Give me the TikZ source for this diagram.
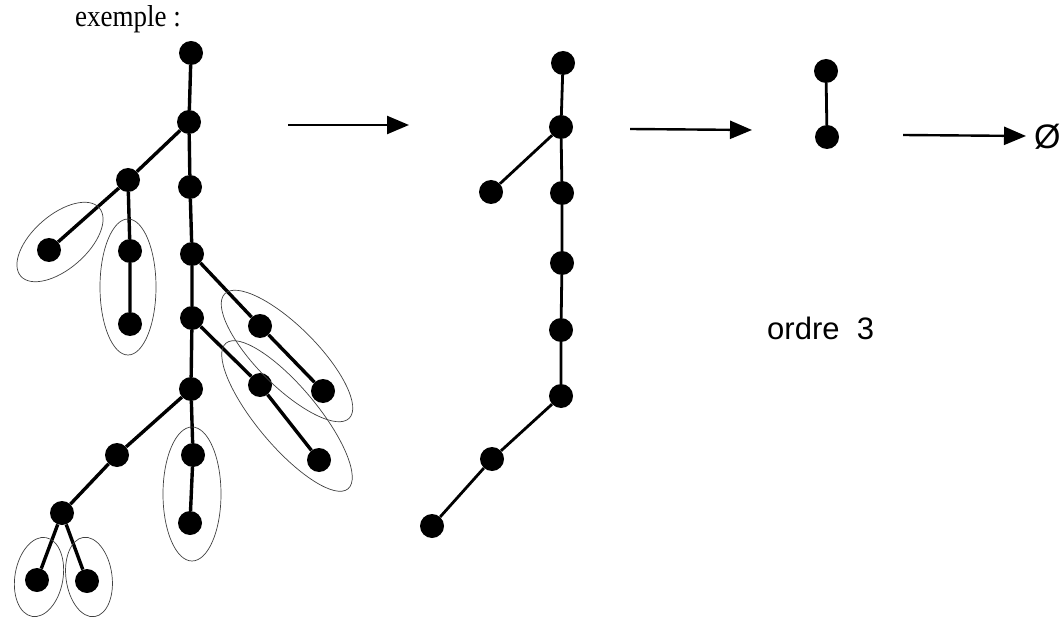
\documentclass[tikz,border=0pt]{standalone}
\usepackage{fontspec}
\setmainfont{Liberation Serif}
\newfontfamily\helv{Liberation Sans}
\usetikzlibrary{arrows.meta}
\begin{document}
\begin{tikzpicture}[x=1pt,y=-1pt,
  dot/.style={circle,fill=black,inner sep=0pt,minimum size=24pt},
  edge/.style={line width=3.4pt},
  thinedge/.style={line width=2.8pt},
  blob/.style={line width=0.7pt,draw=black!75},
  arr/.style={line width=2.4pt,-{Triangle[length=22pt,width=18pt]}}]
\useasboundingbox (0,0) rectangle (1064,617);
% title
\node[anchor=base west,font=\fontsize{27}{30}\selectfont,inner sep=0pt,yscale=1.12] (title) at (75,27) {exemple :};
% left tree
\node[dot] (a) at (191,53) {};
\node[dot] (b) at (189,122) {};
\node[dot] (c) at (190,187) {};
\node[dot] (d) at (192,254) {};
\node[dot] (e) at (192,318) {};
\node[dot] (f) at (191,389) {};
\node[dot] (l1) at (128,180) {};
\node[dot] (l2) at (49,250) {};
\node[dot] (l3) at (130,251) {};
\node[dot] (l4) at (130,324) {};
\node[dot] (d1) at (260,326) {};
\node[dot] (d2) at (323,391) {};
\node[dot] (e1) at (260,385) {};
\node[dot] (e2) at (319,460) {};
\node[dot] (f1) at (117,455) {};
\node[dot] (f2) at (62,513) {};
\node[dot] (f3) at (37,580) {};
\node[dot] (f4) at (87,581) {};
\node[dot] (g1) at (193,455) {};
\node[dot] (g2) at (190,523) {};
\draw[edge] (a)--(b) (b)--(c) (c)--(d) (d)--(e) (e)--(f);
\draw[edge] (b)--(l1) (l1)--(l2) (l1)--(l3) (l3)--(l4);
\draw[edge] (d)--(d1) (d1)--(d2) (e)--(e1) (e1)--(e2);
\draw[edge] (f)--(f1) (f1)--(f2) (f2)--(f3) (f2)--(f4) (f)--(g1) (g1)--(g2);
% ellipses
\draw[blob,rotate around={41:(60,242)}] (60,242) ellipse [x radius=52pt,y radius=27pt];
\draw[blob] (128,287) ellipse [x radius=28pt,y radius=68pt];
\draw[blob,rotate around={-45:(287,356)}] (287,356) ellipse [x radius=88pt,y radius=30pt];
\draw[blob,rotate around={-50:(287,416)}] (287,416) ellipse [x radius=95pt,y radius=30pt];
\draw[blob] (192,494) ellipse [x radius=29pt,y radius=67pt];
\draw[blob,rotate around={-10:(39,577)}] (39,577) ellipse [x radius=24pt,y radius=40pt];
\draw[blob,rotate around={8:(89,577)}] (89,577) ellipse [x radius=23pt,y radius=40pt];
% middle tree
\node[dot] (m1) at (563,63) {};
\node[dot] (m2) at (561,127) {};
\node[dot] (m3) at (491,192) {};
\node[dot] (m4) at (562,193) {};
\node[dot] (m5) at (562,263) {};
\node[dot] (m6) at (561,330) {};
\node[dot] (m7) at (561,396) {};
\node[dot] (m8) at (492,459) {};
\node[dot] (m9) at (432,526) {};
\draw[thinedge] (m1)--(m2) (m2)--(m3) (m2)--(m4) (m4)--(m5) (m5)--(m6) (m6)--(m7) (m7)--(m8) (m8)--(m9);
% right tree
\node[dot] (r1) at (826,71) {};
\node[dot] (r2) at (827,137) {};
\draw[thinedge] (r1)--(r2);
% arrows
\coordinate (p1) at (288,125);
\coordinate (q1) at (409,125);
\coordinate (p2) at (630,129);
\coordinate (q2) at (752,130);
\coordinate (p3) at (903,135);
\coordinate (q3) at (1026,136);
\draw[arr] (p1)--(q1);
\draw[arr] (p2)--(q2);
\draw[arr] (p3)--(q3);
\node[font=\helv\fontsize{34}{36}\selectfont,inner sep=0pt,anchor=west] (empty) at (1034,137) {Ø};
\node[font=\helv\fontsize{31}{34}\selectfont,inner sep=0pt,anchor=base west] (ord) at (767,339) {ordre\ \ 3};
\end{tikzpicture}
\end{document}
